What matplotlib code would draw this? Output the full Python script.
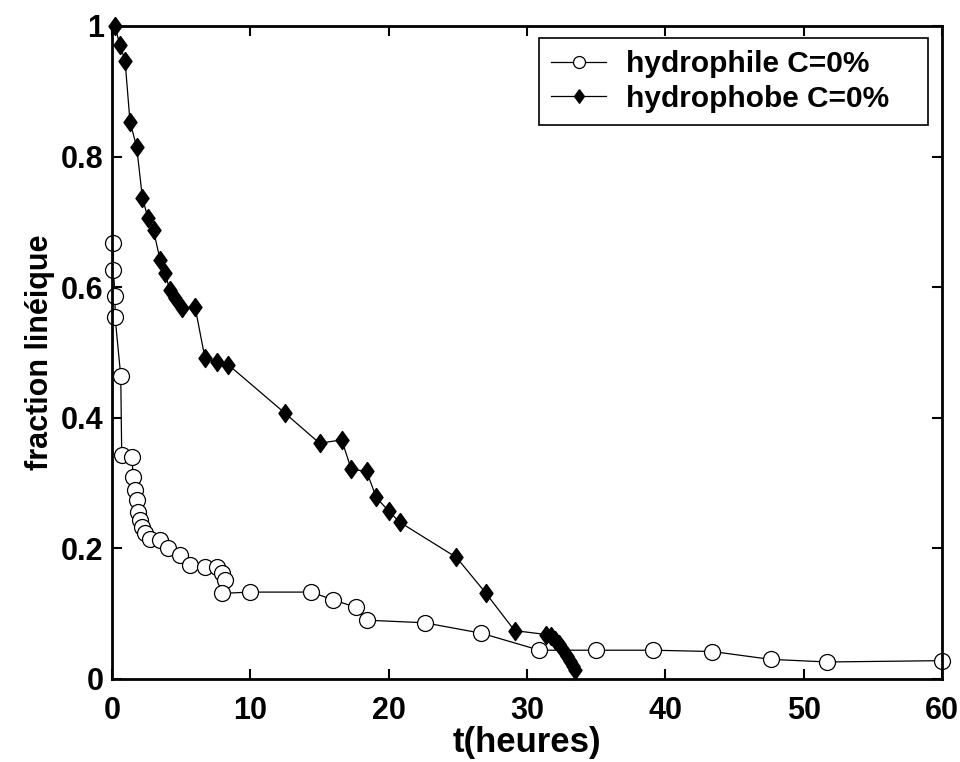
import matplotlib
matplotlib.use('Agg')
import matplotlib.pyplot as plt
from matplotlib import font_manager

# data
t_hydrophile = [0.1, 0.1, 0.22, 0.22, 0.63, 0.7, 1.42, 1.54, 1.66, 1.78, 1.9, 2.02,
                2.15, 2.38, 2.75, 3.47, 4.07, 4.92, 5.64, 6.72, 7.57, 7.93, 8.17,
                7.93, 10.0, 14.4, 16.0, 17.6, 18.4, 22.6, 26.7, 30.9, 35.0, 39.1,
                43.4, 47.6, 51.7, 60.0]
f_hydrophile = [0.668, 0.626, 0.586, 0.554, 0.464, 0.343, 0.340, 0.310, 0.289, 0.274,
                0.256, 0.243, 0.233, 0.223, 0.215, 0.213, 0.200, 0.190, 0.175, 0.172,
                0.172, 0.162, 0.152, 0.131, 0.133, 0.133, 0.121, 0.110, 0.090, 0.086,
                0.070, 0.044, 0.044, 0.044, 0.042, 0.030, 0.026, 0.028]

t_hydrophobe = [0.2, 0.58, 0.94, 1.3, 1.78, 2.2, 2.6, 3.0, 3.47, 3.83, 4.19, 4.55,
                5.04, 6.0, 6.72, 7.57, 8.41, 12.5, 15.0, 16.6, 17.3, 18.4, 19.1, 20.0,
                20.8, 24.9, 27.0, 29.1, 31.4, 31.7, 32.0, 32.3, 32.6, 32.9, 33.1,
                33.3, 33.5]
f_hydrophobe = [1.0, 0.97, 0.947, 0.853, 0.815, 0.736, 0.706, 0.687, 0.642, 0.621,
                0.595, 0.583, 0.568, 0.570, 0.491, 0.486, 0.481, 0.407, 0.361, 0.366,
                0.321, 0.318, 0.278, 0.257, 0.240, 0.186, 0.132, 0.074, 0.068, 0.065,
                0.060, 0.053, 0.045, 0.035, 0.027, 0.020, 0.013]

x_ticks = [0, 10, 20, 30, 40, 50, 60]
y_ticks = [0, 0.2, 0.4, 0.6, 0.8, 1]
y_tick_labels = ['0', '0.2', '0.4', '0.6', '0.8', '1']

names = {f.name for f in font_manager.fontManager.ttflist}
narrow = 'Liberation Sans Narrow' if 'Liberation Sans Narrow' in names else 'Liberation Sans'

# diamond a bit wider than matplotlib's 'd'
diamond = [(0, 1), (0.72, 0), (0, -1), (-0.72, 0), (0, 1)]

fig = plt.figure(figsize=(9.6, 7.62), dpi=100)
ax = fig.add_axes([0.1167, 0.109, 0.8646, 0.857])

ax.plot(t_hydrophile, f_hydrophile, color='black', lw=0.9, marker='o',
        markersize=11.5, markerfacecolor='white', markeredgecolor='black',
        markeredgewidth=0.9, clip_on=False, label='hydrophile C=0%')
ax.plot(t_hydrophobe, f_hydrophobe, color='black', lw=0.9, marker=diamond,
        markersize=13, markerfacecolor='black', markeredgecolor='black',
        clip_on=False, label='hydrophobe C=0%')

ax.set_xlim(0, 60)
ax.set_ylim(0, 1)
ax.set_xticks(x_ticks)
ax.set_yticks(y_ticks)
ax.set_yticklabels(y_tick_labels)
for lab in ax.get_xticklabels() + ax.get_yticklabels():
    lab.set_fontfamily(narrow)
    lab.set_fontweight('bold')
    lab.set_fontsize(22)

ax.tick_params(direction='in', length=7, width=1.5, top=True, right=True)
ax.tick_params(axis='x', pad=12)
ax.tick_params(axis='y', pad=6)
for sp in ax.spines.values():
    sp.set_linewidth(2)

ax.set_xlabel('t(heures)', fontfamily=narrow, fontweight='bold', fontsize=25, labelpad=0)
ax.set_ylabel('fraction linéique', fontfamily=narrow, fontweight='bold', fontsize=22, labelpad=4)

# legend box stretched to the width of the original, entries left aligned
leg = ax.legend(loc='upper right', bbox_to_anchor=(0.5145, 0.0, 0.4687, 0.981), mode='expand',
                prop={'family': 'Liberation Sans', 'weight': 'bold', 'size': 21.5},
                fancybox=False, framealpha=1, edgecolor='black', handlelength=1.85,
                borderpad=0.4, labelspacing=0.22, borderaxespad=0.0, markerscale=0.75,
                handletextpad=0.65)
leg.get_frame().set_linewidth(1.2)

fig.savefig('out.png', dpi=100)
